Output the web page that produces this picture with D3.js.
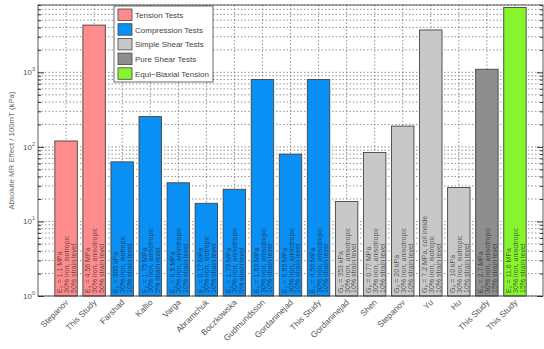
<!DOCTYPE html>
<html>
<head>
<meta charset="utf-8">
<script src="https://cdn.jsdelivr.net/npm/d3@7/dist/d3.min.js"></script>
<style>
  html, body { margin: 0; padding: 0; background: #fff; }
  svg { display: block; font-family: "Liberation Sans", Arial, sans-serif; }
</style>
</head>
<body>
<svg id="chart" width="544" height="349"></svg>
<script>
// Study names along the x axis
const categories = ["Stepanov", "This Study", "Farshad", "Kallio", "Varga", "Abramchuk",
  "Boczkowska", "Gudmundsson", "Gordaninejad", "This Study", "Gordaninejad", "Shen",
  "Stepanov", "Yu", "Hu", "This Study", "This Study"];
// Absolute MR effect per 100 mT, kPa
const mrEffect = [120, 4300, 63, 255, 33, 17.5, 27, 800, 80, 800, 18.5, 84, 190, 3700, 28.5, 1100, 7400];
// Test type of each bar (index into testTypes)
const testIndex = [0, 0, 1, 1, 1, 1, 1, 1, 1, 1, 2, 2, 2, 2, 2, 3, 4];
const testTypes = ["Tension Tests", "Compression Tests", "Simple Shear Tests", "Pure Shear Tests", "Equi\u2212Biaxial Tension"];
const testColors = ["#ff8c8c", "#0a8ff5", "#c8c8c8", "#8e8e8e", "#86f52e"];
// Annotation lines written up each bar
const modulusNote = ["E\u2080 = 1.1 MPa", "E\u2080 = 4.56 MPa", "E\u2080 = 300 kPa", "E\u2080 = 1.75 MPa",
  "E\u2080 = 0.5 MPa", "E\u2080 = 0.17 MPa", "E\u2080 = 1.79 MPa", "E\u2080 = 1.63 MPa", "E\u2080 = 0.69 MPa",
  "E\u2080 = 4.56 MPa", "G\u2080 = 353 kPa", "G\u2080 = 0.77 MPa", "G\u2080 = 20 kPa",
  "G\u2080 = 7.2 MPa, coil inside", "G\u2080 = 10 kPa", "E\u2080 = 2.7 MPa", "E\u2080 = 11.6 MPa"];
const ironNote = ["30% iron, isotropic", "30% iron, anisotropic", "30% iron, isotropic", "30% iron, anisotropic",
  "30% iron, anisotropic", "30% iron, isotropic", "30% iron, anisotropic", "30% iron, anisotropic",
  "30% iron, anisotropic", "30% iron, anisotropic", "30% iron, anisotropic", "30% iron, anisotropic",
  "30% iron, anisotropic", "30% iron, isotropic", "30% iron, isotropic", "30% iron, anisotropic",
  "30% iron, anisotropic"];
const strainNote = ["50% strain level", "50% strain level", "10% strain level", "5% strain level",
  "10% strain level", "10% strain level", "5% strain level", "10% strain level", "10% strain level",
  "10% strain level", "10% strain level", "10% strain level", "10% strain level", "10% strain level",
  "10% strain level", "15% strain level", "15% strain level"];
const yTicks = [1, 10, 100, 1000];

const svg = d3.select("#chart");
const plotL = 38, plotR = 543, plotT = 5, plotB = 296;

const x = d3.scaleLinear().domain([0, categories.length + 1]).range([plotL, plotR]);
const y = d3.scaleLog().domain([1, 8000]).range([plotB, plotT]);
const barW = (x(1) - x(0)) * 0.8;

// Grid: dotted major/minor horizontal lines and vertical lines at each bar
const minorTicks = [];
for (let d = 1; d <= 1000; d *= 10) for (let m = 1; m <= 9; m++) if (d * m <= 8000) minorTicks.push(d * m);
const grid = svg.append("g");
grid.selectAll("line.h").data(minorTicks).join("line")
  .attr("x1", plotL).attr("x2", plotR)
  .attr("y1", d => y(d)).attr("y2", d => y(d))
  .attr("stroke", "#666").attr("stroke-width", 0.7).attr("stroke-dasharray", "1.5,2");
grid.selectAll("line.v").data(d3.range(1, categories.length + 1)).join("line")
  .attr("x1", d => x(d)).attr("x2", d => x(d))
  .attr("y1", plotT).attr("y2", plotB)
  .attr("stroke", "#666").attr("stroke-width", 0.7).attr("stroke-dasharray", "1.5,2");

// Bars
const bars = svg.append("g").selectAll("g").data(mrEffect).join("g");
bars.append("rect")
  .attr("x", (d, i) => x(i + 1) - barW / 2)
  .attr("width", barW)
  .attr("y", d => y(d))
  .attr("height", d => plotB - y(d))
  .attr("fill", (d, i) => testColors[testIndex[i]])
  .attr("stroke", "#444").attr("stroke-width", 0.9);

// Rotated notes inside each bar
bars.each(function (d, i) {
  const lines = [modulusNote[i], ironNote[i], strainNote[i]];
  const cx = x(i + 1) - barW / 2;
  lines.forEach((t, k) => {
    d3.select(this).append("text")
      .attr("transform", `translate(${cx + 7.5 + k * 6.8},${plotB - 3}) rotate(-90)`)
      .attr("font-size", 7)
      .attr("fill", "#222")
      .attr("fill-opacity", 0.7)
      .text(t);
  });
});

// Axes box
svg.append("rect").attr("x", plotL).attr("y", plotT).attr("width", plotR - plotL).attr("height", plotB - plotT)
  .attr("fill", "none").attr("stroke", "#333").attr("stroke-width", 0.8);

// Y axis ticks (major and minor, both sides)
const gL = svg.append("g").attr("transform", `translate(${plotL},0)`)
  .call(d3.axisLeft(y).tickValues(minorTicks).tickSize(-4).tickFormat(""));
gL.select(".domain").remove();
gL.selectAll(".tick line").attr("stroke", "#333").attr("x2", d => yTicks.includes(d) ? 6 : 3);
const gR = svg.append("g").attr("transform", `translate(${plotR},0)`)
  .call(d3.axisRight(y).tickValues(minorTicks).tickSize(-3).tickFormat(""));
gR.select(".domain").remove();
gR.selectAll(".tick line").attr("stroke", "#333").attr("x2", d => yTicks.includes(d) ? -6 : -3);

// Y tick labels as 10 with superscript exponent
const yLab = svg.append("g").selectAll("text").data(yTicks).join("text")
  .attr("x", plotL - 3).attr("y", d => y(d) + 3)
  .attr("text-anchor", "end").attr("font-size", 8).attr("fill", "#555");
yLab.append("tspan").text("10");
yLab.append("tspan").attr("dy", -4).attr("font-size", 5.5).text(d => Math.round(Math.log10(d)));

// X axis labels, rotated 45 degrees
svg.append("g").selectAll("text").data(categories).join("text")
  .attr("transform", (d, i) => `translate(${x(i + 1) + 3},${plotB + 7}) rotate(-45)`)
  .attr("text-anchor", "end").attr("font-size", 8.4).attr("fill", "#555")
  .text(d => d);

// Y axis title
svg.append("text")
  .attr("transform", `translate(14,${(plotT + plotB) / 2}) rotate(-90)`)
  .attr("text-anchor", "middle").attr("font-size", 7.8).attr("fill", "#666")
  .text("Absolute MR Effect / 100mT (kPa)");

// Legend
const lg = svg.append("g").attr("transform", "translate(114,6)");
lg.append("rect").attr("width", 99).attr("height", 76).attr("fill", "#fff").attr("stroke", "#444").attr("stroke-width", 0.8);
const items = lg.selectAll("g").data(testTypes).join("g")
  .attr("transform", (d, i) => `translate(4,${3 + i * 14.7})`);
items.append("rect").attr("width", 14).attr("height", 11.5)
  .attr("fill", (d, i) => testColors[i]).attr("stroke", "#444").attr("stroke-width", 0.8);
items.append("text").attr("x", 17).attr("y", 9).attr("font-size", 8).attr("fill", "#444")
  .text(d => d);
</script>
</body>
</html>
